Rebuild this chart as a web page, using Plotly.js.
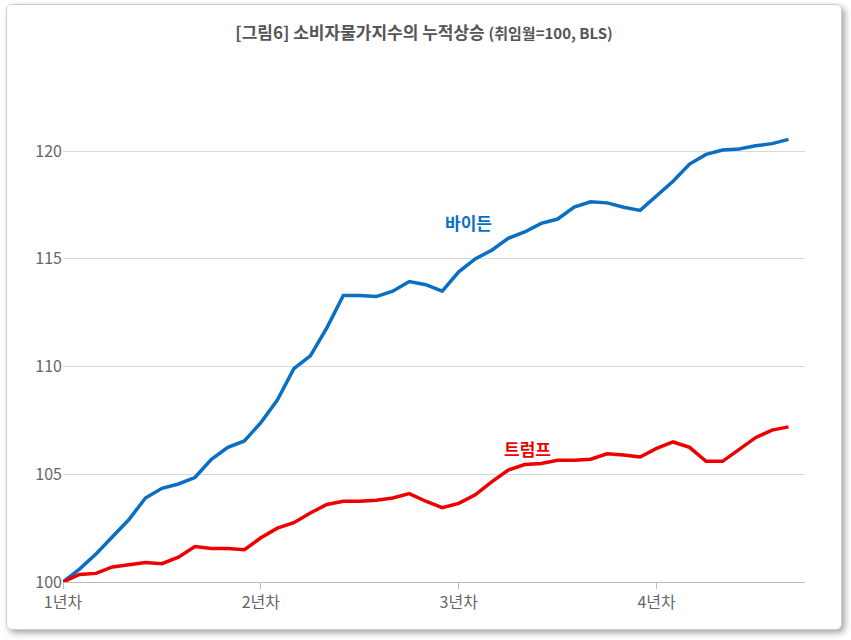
<!DOCTYPE html>
<html><head><meta charset="utf-8">
<script src="https://cdn.plot.ly/plotly-3.0.1.min.js"></script>
<style>
html,body{margin:0;padding:0;background:#fff;}
#frame{position:absolute;left:6px;top:4px;width:834px;height:624px;border:1px solid #ccc;border-radius:6px;box-shadow:3px 3px 6px rgba(0,0,0,0.35);background:#fff;overflow:hidden;}
#myDiv{width:834px;height:624px;}
</style></head>
<body><div id="frame"><div id="myDiv"></div></div>
<script>
const months = Array.from({length: 45}, (_, i) => i);
const biden = [100,100.6,101.3,102.1,102.9,103.9,104.35,104.55,104.85,105.7,106.25,106.55,107.4,108.45,109.9,110.5,111.8,113.3,113.3,113.25,113.5,113.95,113.8,113.5,114.4,115.0,115.4,115.95,116.25,116.65,116.85,117.4,117.65,117.6,117.4,117.25,117.9,118.6,119.4,119.85,120.05,120.1,120.25,120.35,120.55];
const trump = [100,100.35,100.4,100.7,100.8,100.9,100.85,101.15,101.65,101.55,101.55,101.5,102.05,102.5,102.75,103.2,103.6,103.75,103.75,103.8,103.9,104.1,103.75,103.45,103.65,104.05,104.65,105.2,105.45,105.5,105.65,105.65,105.7,105.95,105.9,105.8,106.2,106.5,106.25,105.6,105.6,106.15,106.7,107.05,107.2];
const xTickVals = [0, 12, 24, 36];
const xTickText = ['1년차', '2년차', '3년차', '4년차'];
const yTickVals = [100, 105, 110, 115, 120];

const font = 'Noto Sans CJK KR, Noto Sans, sans-serif';
const data = [
  { x: months, y: biden, type: 'scatter', mode: 'lines', name: '바이든', line: { color: '#0a6fc2', width: 3.5 } },
  { x: months, y: trump, type: 'scatter', mode: 'lines', name: '트럼프', line: { color: '#ee0000', width: 3.5 } }
];
const layout = {
  width: 834, height: 624,
  margin: { l: 56, r: 36, t: 60, b: 47 },
  showlegend: false,
  font: { family: font, color: '#666', size: 16 },
  title: { text: '<b>[그림6] 소비자물가지수의 누적상승</b> <span style="font-size:15px"><b>(취임월=100, BLS)</b></span>',
           x: 0.5, y: 0.965, font: { size: 17, color: '#555', family: font } },
  xaxis: { range: [0, 45], tickvals: xTickVals, ticktext: xTickText, showgrid: false, zeroline: false,
           showline: true, linecolor: '#bbb', ticks: 'outside', ticklen: 6, tickcolor: '#bbb' },
  yaxis: { range: [100, 124], tickvals: yTickVals, gridcolor: '#d9d9d9', zeroline: false, ticks: '', ticklen: 0 },
  annotations: [
    { x: 24.6, y: 116.7, text: '<b>바이든</b>', showarrow: false, font: { size: 17, color: '#0a6fc2', family: font } },
    { x: 28.2, y: 106.2, text: '<b>트럼프</b>', showarrow: false, font: { size: 17, color: '#ee0000', family: font } }
  ]
};
Plotly.newPlot('myDiv', data, layout, { displayModeBar: false });
</script></body></html>
